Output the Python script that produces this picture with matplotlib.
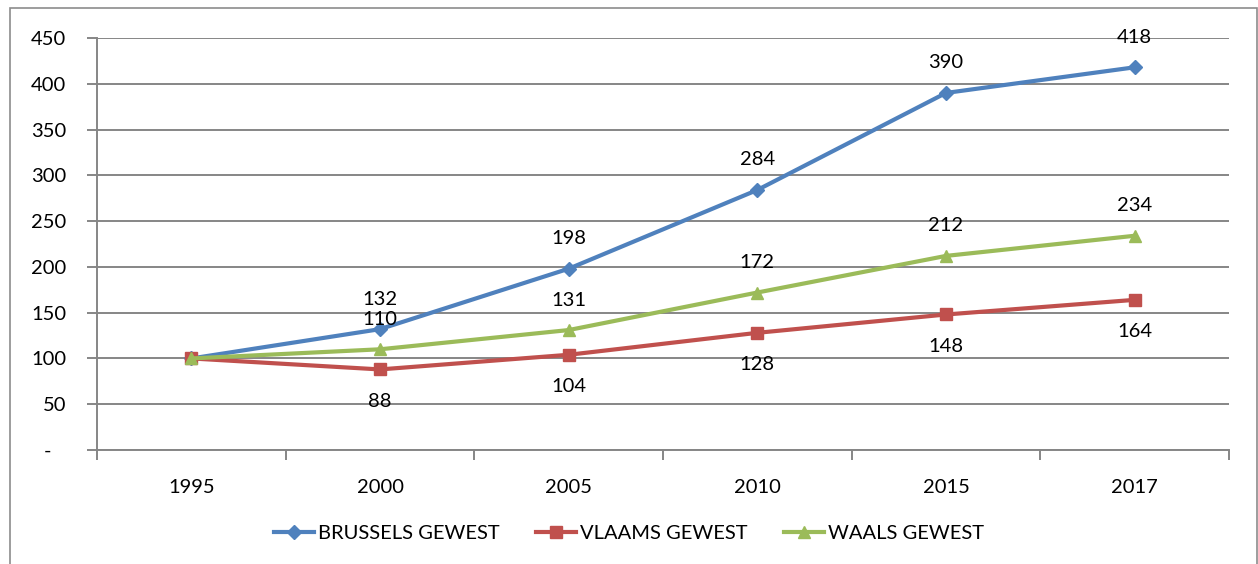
import matplotlib
matplotlib.use("Agg")
import matplotlib.pyplot as plt
from matplotlib.patches import Rectangle
from matplotlib.ticker import FixedLocator

plt.rcParams['font.family'] = ['Lato', 'DejaVu Sans']

years = ['1995', '2000', '2005', '2010', '2015', '2017']
brussels = [100, 132, 198, 284, 390, 418]
vlaams = [100, 88, 104, 128, 148, 164]
waals = [100, 110, 131, 172, 212, 234]
series_names = ['BRUSSELS GEWEST', 'VLAAMS GEWEST', 'WAALS GEWEST']
yticks = [0, 50, 100, 150, 200, 250, 300, 350, 400, 450]
ytick_labels = ['-\u00a0\u00a0\u00a0', '50', '100', '150', '200', '250', '300', '350', '400', '450']

FS = 14.5

fig = plt.figure(figsize=(12.58, 5.64), dpi=100)
ax = fig.add_axes([97/1258, 1-450/564, (1229-97)/1258, (450-38)/564])

fig.patches.append(Rectangle((10/1258, -0.01), (1257-10)/1258, 1-8/564+0.01,
                             transform=fig.transFigure, fill=False,
                             edgecolor='#8c8c8c', linewidth=1.2, zorder=0))

x = [i + 0.5 for i in range(len(years))]
styles = [
    (brussels, '#4F81BD', 'D', 7, 'above'),
    (vlaams, '#C0504D', 's', 8, 'below'),
    (waals, '#9BBB59', '^', 9, 'above'),
]
for (vals, col, mk, ms, pos), name in zip(styles, series_names):
    ax.plot(x, vals, color=col, linewidth=3, marker=mk, markersize=ms,
            markeredgecolor=col, label=name, zorder=3)
    for xi, v in zip(x[1:], vals[1:]):
        off = 30 if pos == 'above' else -32
        ax.annotate(str(v), (xi, v), xytext=(0, off), textcoords='offset pixels',
                    ha='center', va='center', fontsize=FS, color='black', zorder=4)

ax.set_xlim(0, 6)
ax.set_ylim(0, 450)
ax.set_yticks(yticks)
ax.set_yticklabels(ytick_labels, fontsize=FS)
ax.set_xticks(x)
ax.set_xticklabels(years, fontsize=FS)
ax.xaxis.set_minor_locator(FixedLocator(range(0, 7)))
ax.tick_params(axis='x', which='major', length=0, pad=21)
ax.tick_params(axis='x', which='minor', length=7, color='#868686', width=1.4)
ax.tick_params(axis='y', length=7, color='#868686', width=1.4, pad=15)

ax.grid(axis='y', color='#868686', linewidth=1.4, zorder=0)
ax.set_axisbelow(True)
for s in ['top', 'right']:
    ax.spines[s].set_visible(False)
for s in ['left', 'bottom']:
    ax.spines[s].set_color('#868686')
    ax.spines[s].set_linewidth(1.4)

fig.legend(loc='center', bbox_to_anchor=(0.5, 1-533/564), ncol=3, frameon=False,
           fontsize=FS, handlelength=2.0, handletextpad=0.2, columnspacing=1.8)

fig.savefig('out.png', dpi=100)
